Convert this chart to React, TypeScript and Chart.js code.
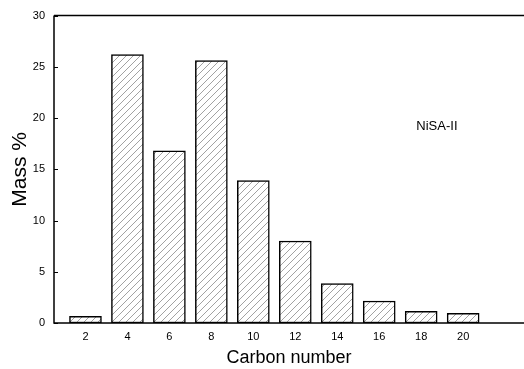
import React, { useEffect, useRef } from "react";
import { Chart, registerables } from "chart.js";

Chart.register(...registerables);

const carbonNumbers = [2, 4, 6, 8, 10, 12, 14, 16, 18, 20];
const massPercent = [0.65, 26.2, 16.8, 25.6, 13.9, 8.0, 3.85, 2.15, 1.15, 0.95];
const yTicks = [0, 5, 10, 15, 20, 25, 30];
const xTitle = "Carbon number";
const yTitle = "Mass %";
const sampleLabel = "NiSA-II";
const sampleLabelPos = { x: 18.75, y: 19.2 };

function makeHatch(): CanvasPattern | string {
  const c = document.createElement("canvas");
  const s = 7;
  c.width = s;
  c.height = s;
  const g = c.getContext("2d");
  if (!g) return "#fff";
  g.fillStyle = "#fff";
  g.fillRect(0, 0, s, s);
  g.strokeStyle = "#8a8a8a";
  g.lineWidth = 0.8;
  g.beginPath();
  g.moveTo(-1, s + 1);
  g.lineTo(s + 1, -1);
  g.moveTo(-1, 1);
  g.lineTo(1, -1);
  g.moveTo(s - 1, s + 1);
  g.lineTo(s + 1, s - 1);
  g.stroke();
  const p = g.createPattern(c, "repeat");
  return p || "#fff";
}

const framePlugin = {
  id: "frame",
  afterDraw(chart: any) {
    const { ctx, chartArea, scales } = chart;
    const y = scales.y;
    const x = scales.x;
    ctx.save();
    ctx.strokeStyle = "#000";
    ctx.lineWidth = 1.5;
    ctx.beginPath();
    ctx.moveTo(chartArea.left, chartArea.top);
    ctx.lineTo(chartArea.right, chartArea.top);
    ctx.moveTo(chartArea.left, chartArea.top);
    ctx.lineTo(chartArea.left, chartArea.bottom);
    ctx.lineTo(chartArea.right, chartArea.bottom);
    ctx.stroke();
    ctx.lineWidth = 1;
    ctx.beginPath();
    yTicks.forEach((v) => {
      const py = Math.round(y.getPixelForValue(v)) + 0.5;
      ctx.moveTo(chartArea.left, py);
      ctx.lineTo(chartArea.left + 4, py);
    });
    ctx.stroke();
    ctx.fillStyle = "#000";
    ctx.font = "13px 'Liberation Sans', Arial, sans-serif";
    ctx.textAlign = "center";
    ctx.textBaseline = "middle";
    ctx.fillText(
      sampleLabel,
      x.getPixelForValue(sampleLabelPos.x),
      y.getPixelForValue(sampleLabelPos.y)
    );
    ctx.restore();
  },
};

export default function App() {
  const ref = useRef<HTMLCanvasElement>(null);
  useEffect(() => {
    if (!ref.current) return;
    const hatch = makeHatch();
    const chart = new Chart(ref.current, {
      type: "bar",
      data: {
        datasets: [
          {
            data: carbonNumbers.map((c, i) => ({ x: c, y: massPercent[i] })),
            backgroundColor: hatch as any,
            borderColor: "#000",
            borderWidth: 1.5,
            borderSkipped: false,
            barThickness: 32,
          },
        ],
      },
      options: {
        animation: false,
        responsive: false,
        maintainAspectRatio: false,
        layout: { padding: { top: 15, right: 0, left: 0, bottom: 0 } },
        plugins: { legend: { display: false }, tooltip: { enabled: false } },
        scales: {
          x: {
            type: "linear",
            min: 0.5,
            max: 22.9,
            offset: false,
            grid: { display: false, drawTicks: false },
            border: { display: false },
            afterBuildTicks: (scale: any) => {
              scale.ticks = carbonNumbers.map((v) => ({ value: v }));
            },
            afterFit: (scale: any) => {
              scale.height = 46;
            },
            ticks: {
              autoSkip: false,
              maxRotation: 0,
              padding: 7,
              color: "#000",
              font: { family: "'Liberation Sans', Arial, sans-serif", size: 11 },
              callback: (v: any) => String(v),
            },
            title: {
              display: true,
              text: xTitle,
              color: "#000",
              font: { family: "'Liberation Sans', Arial, sans-serif", size: 18 },
              padding: { top: 0, bottom: 0 },
            },
          },
          y: {
            type: "linear",
            min: 0,
            max: 30,
            grid: { display: false, drawTicks: false },
            border: { display: false },
            afterBuildTicks: (scale: any) => {
              scale.ticks = yTicks.map((v) => ({ value: v }));
            },
            afterFit: (scale: any) => {
              scale.width = 54;
            },
            ticks: {
              padding: 9,
              color: "#000",
              font: { family: "'Liberation Sans', Arial, sans-serif", size: 11 },
            },
            title: {
              display: true,
              text: yTitle,
              color: "#000",
              font: { family: "'Liberation Sans', Arial, sans-serif", size: 21 },
              padding: { top: 8, bottom: 0 },
            },
          },
        },
      },
      plugins: [framePlugin],
    });
    return () => chart.destroy();
  }, []);
  return (
    <div style={{ position: "fixed", left: 0, top: 0, width: 524, height: 369, background: "#fff" }}>
      <canvas ref={ref} width={524} height={369} style={{ display: "block" }} />
    </div>
  );
}
